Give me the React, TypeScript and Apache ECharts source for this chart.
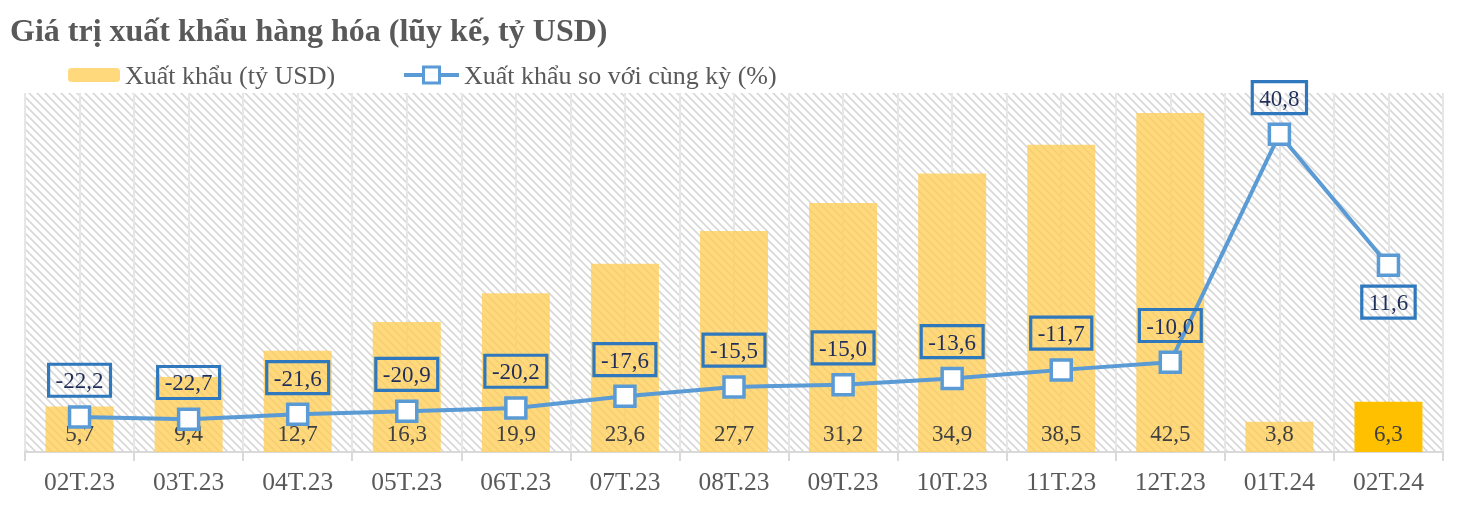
import React, { useEffect, useRef } from "react";
import * as echarts from "echarts";

const categories = ["02T.23", "03T.23", "04T.23", "05T.23", "06T.23", "07T.23", "08T.23", "09T.23", "10T.23", "11T.23", "12T.23", "01T.24", "02T.24"];
const exportValues = [5.7, 9.4, 12.7, 16.3, 19.9, 23.6, 27.7, 31.2, 34.9, 38.5, 42.5, 3.8, 6.3];
const yoyValues = [-22.2, -22.7, -21.6, -20.9, -20.2, -17.6, -15.5, -15.0, -13.6, -11.7, -10.0, 40.8, 11.6];

const FONT = "'Liberation Serif', 'Times New Roman', serif";
const fmt = (v: number) => v.toFixed(1).replace(".", ",");

function makeHatch() {
  const c = document.createElement("canvas");
  c.width = 8;
  c.height = 8;
  const ctx = c.getContext("2d")!;
  ctx.fillStyle = "#ffffff";
  ctx.fillRect(0, 0, 8, 8);
  ctx.strokeStyle = "#d8d8d8";
  ctx.lineWidth = 1.6;
  ctx.beginPath();
  ctx.moveTo(-2, -2);
  ctx.lineTo(10, 10);
  ctx.moveTo(-10, -2);
  ctx.lineTo(2, 10);
  ctx.moveTo(6, -2);
  ctx.lineTo(18, 10);
  ctx.stroke();
  return c;
}

export default function App() {
  const ref = useRef<HTMLDivElement>(null);
  useEffect(() => {
    if (!ref.current) return;
    const chart = echarts.init(ref.current, null, { renderer: "svg" });
    const hatch = makeHatch();
    const legendText = { fontFamily: FONT, fontSize: 26, color: "#595959" };
    chart.setOption({
      animation: false,
      title: {
        text: "Giá trị xuất khẩu hàng hóa (lũy kế, tỷ USD)",
        left: 10,
        top: 14,
        padding: 0,
        textStyle: { fontFamily: FONT, fontSize: 32, fontWeight: "bold", color: "#595959" },
      },
      legend: [
        {
          left: 68,
          top: 62,
          padding: 0,
          itemWidth: 52,
          itemHeight: 14,
          itemGap: 5,
          textStyle: legendText,
          data: [{ name: "Xuất khẩu (tỷ USD)", itemStyle: { color: "#FFD97C", opacity: 1 } }],
        },
        {
          left: 402,
          top: 62,
          padding: 0,
          itemWidth: 55,
          itemHeight: 20,
          textStyle: legendText,
          lineStyle: { width: 4, color: "#5B9BD5" },
          itemStyle: { borderWidth: 3, borderColor: "#5B9BD5", color: "#FFFFFF" },
          data: [{ name: "Xuất khẩu so với cùng kỳ (%)" }],
        },
      ],
      grid: {
        left: 25,
        right: 26,
        top: 93,
        bottom: 63,
        show: true,
        borderWidth: 0,
        backgroundColor: { image: hatch, repeat: "repeat", imageWidth: 8, imageHeight: 8 } as any,
      },
      xAxis: [
        {
          type: "category",
          data: categories,
          boundaryGap: true,
          axisLine: { lineStyle: { color: "#D9D9D9", width: 2 } },
          axisTick: { show: true, length: 9, interval: 0, lineStyle: { color: "#D9D9D9", width: 2 } },
          axisLabel: { fontFamily: FONT, fontSize: 25.5, color: "#595959", margin: 16, interval: 0 },
          splitLine: { show: false },
        },
        {
          type: "value",
          min: 0,
          max: 13,
          interval: 0.5,
          position: "bottom",
          axisLine: { show: false },
          axisTick: { show: false },
          axisLabel: { show: false },
          splitLine: { show: true, lineStyle: { color: "#E6E6E6", width: 2 } },
        },
      ],
      yAxis: [
        { type: "value", min: 0, max: 45, show: false, splitLine: { show: false } },
        { type: "value", min: -30, max: 50, show: false, splitLine: { show: false } },
      ],
      series: [
        {
          name: "Xuất khẩu (tỷ USD)",
          type: "bar",
          xAxisIndex: 0,
          yAxisIndex: 0,
          barWidth: 68,
          data: exportValues.map((v, i) =>
            i === exportValues.length - 1
              ? { value: v, itemStyle: { color: "#FFC000", opacity: 1 } }
              : v
          ),
          itemStyle: { color: "rgba(255,204,80,0.75)" },
          label: {
            show: true,
            position: "insideBottom",
            distance: 7,
            formatter: (p: any) => fmt(p.value),
            fontFamily: FONT,
            fontSize: 23,
            color: "#404040",
          },
          z: 2,
        },
        {
          name: "Xuất khẩu so với cùng kỳ (%)",
          type: "line",
          xAxisIndex: 0,
          yAxisIndex: 1,
          data: yoyValues.map((v, i) =>
            i === yoyValues.length - 1 ? { value: v, label: { position: "bottom" } } : v
          ),
          symbol: "rect",
          symbolSize: 20,
          lineStyle: { color: "#5B9BD5", width: 4 },
          itemStyle: { color: "#FFFFFF", borderColor: "#5B9BD5", borderWidth: 3.5 },
          label: {
            show: true,
            position: "top",
            distance: 9,
            formatter: (p: any) => fmt(p.value),
            fontFamily: FONT,
            fontSize: 23,
            color: "#1F2E5A",
            borderColor: "#2F78BD",
            borderWidth: 1.6,
            padding: [5, 7, 4, 7],
            backgroundColor: "transparent",
          },
          z: 3,
        },
      ],
    });
    return () => chart.dispose();
  }, []);
  return <div ref={ref} style={{ position: "fixed", left: 0, top: 0, width: 1469, height: 515 }} />;
}
